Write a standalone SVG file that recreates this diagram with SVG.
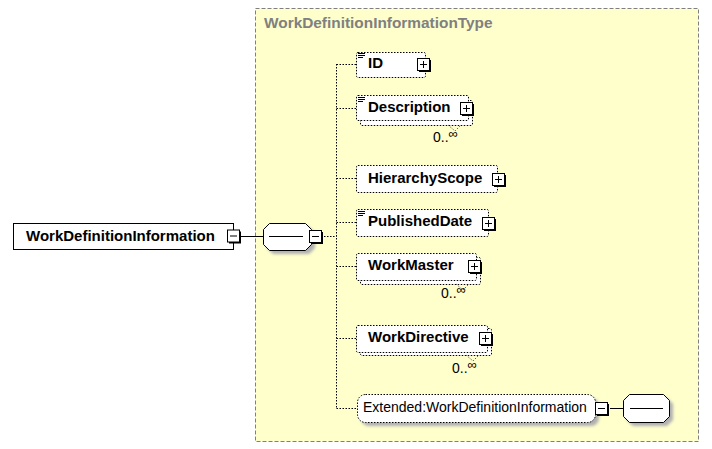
<svg xmlns="http://www.w3.org/2000/svg" width="712" height="449" viewBox="0 0 712 449">
<defs>
<style>
.bold{font-family:"Liberation Sans",Arial,sans-serif;font-weight:bold;font-size:15px;fill:#000}
.reg{font-family:"Liberation Sans",Arial,sans-serif;font-size:14px;fill:#000}
.title{font-family:"Liberation Sans",Arial,sans-serif;font-weight:bold;font-size:15.4px;fill:#808080}
.opt{fill:#fff;stroke:#000;stroke-width:1;stroke-dasharray:1.5,1.5}
.solid{fill:#fff;stroke:#000;stroke-width:1}
.conn{fill:none;stroke:#000;stroke-width:1;stroke-dasharray:1.5,1.5}
.line{fill:none;stroke:#000;stroke-width:1}
.shadow{fill:#b0b0b0;filter:url(#blur)}
.card{fill:none;stroke:#666;stroke-width:1;stroke-dasharray:1.5,1.5}
</style>
<filter id="blur" x="-20%" y="-20%" width="140%" height="140%"><feGaussianBlur stdDeviation="1.5"/></filter>
<g id="plus">
<rect x="2" y="2" width="12" height="12" fill="#000"/>
<rect x="0.5" y="0.5" width="12" height="12" fill="#fff" stroke="#000"/>
<path d="M3 6.5H10M6.5 3V10" stroke="#000" stroke-width="1"/>
</g>
<g id="minus">
<rect x="2" y="2" width="12" height="12" fill="#000"/>
<rect x="0.5" y="0.5" width="12" height="12" fill="#fff" stroke="#000"/>
<path d="M3 6.5H10" stroke="#000" stroke-width="1"/>
</g>
<g id="doc">
<path d="M0 0.5H7M0 2.5H7M0 4.5H5" stroke="#000" stroke-width="1"/>
</g>
</defs>

<g id="type-box">
<rect x="255.5" y="8.5" width="443" height="433" fill="#FFFFCC" stroke="#808080" stroke-dasharray="4,2"/>
<text class="title" x="264" y="28">WorkDefinitionInformationType</text>
</g>

<g id="connectors">
<path class="line" d="M241 236.5H263"/>
<path class="conn" d="M324 236.5H336.5"/>
<path class="conn" d="M336.5 64V408"/>
<path class="conn" d="M336.5 64.5H356"/>
<path class="conn" d="M336.5 108.5H356"/>
<path class="conn" d="M336.5 178.5H356"/>
<path class="conn" d="M336.5 222.5H356"/>
<path class="conn" d="M336.5 266.5H356"/>
<path class="conn" d="M336.5 338.5H356"/>
<path class="conn" d="M336.5 408.5H357"/>
<path class="line" d="M610 408.5H623"/>
</g>

<g id="WorkDefinitionInformation">
<rect class="solid" x="13.5" y="223.5" width="220" height="26"/>
<text class="bold" x="26" y="241">WorkDefinitionInformation</text>
<use href="#minus" x="227" y="229.5"/>
</g>

<g id="sequence">
<polygon class="shadow" points="273,227 309,227 315,233 315,248 309,254 273,254 267,248 267,233"/>
<polygon class="solid" points="269.5,223.5 305.5,223.5 311.5,229.5 311.5,244.5 305.5,250.5 269.5,250.5 263.5,244.5 263.5,229.5"/>
<path class="line" d="M269 236.5H303"/>
<use href="#minus" x="309" y="230"/>
</g>

<g id="ID">
<rect class="opt" x="356.5" y="52.5" width="69" height="25" rx="1.5"/>
<use href="#doc" x="358" y="53"/>
<text class="bold" x="368" y="68">ID</text>
<use href="#plus" x="417" y="58"/>
</g>

<g id="Description">
<rect class="opt" x="360.5" y="100.5" width="112" height="25" rx="1.5"/>
<rect class="opt" x="356.5" y="95.5" width="112" height="25" rx="1.5"/>
<use href="#doc" x="358" y="97"/>
<text class="bold" x="368" y="112">Description</text>
<use href="#plus" x="460" y="102"/>
<path class="card" d="M448 125L455 131L461 125"/>
<text class="reg" x="433" y="142">0..<tspan font-size="13" dy="-4">∞</tspan></text>
</g>

<g id="HierarchyScope">
<rect class="opt" x="356.5" y="165.5" width="141" height="27" rx="1.5"/>
<text class="bold" x="368" y="182.5">HierarchyScope</text>
<use href="#plus" x="492" y="173"/>
</g>

<g id="PublishedDate">
<rect class="opt" x="356.5" y="209.5" width="132" height="27" rx="1.5"/>
<use href="#doc" x="358" y="211"/>
<text class="bold" x="368" y="226">PublishedDate</text>
<use href="#plus" x="482" y="217"/>
</g>

<g id="WorkMaster">
<rect class="opt" x="360.5" y="257.5" width="120" height="27" rx="1.5"/>
<rect class="opt" x="356.5" y="253.5" width="120" height="27" rx="1.5"/>
<text class="bold" x="368" y="270">WorkMaster</text>
<use href="#plus" x="468" y="260"/>
<path class="card" d="M456 284L463 290L469 284"/>
<text class="reg" x="441" y="298">0..<tspan font-size="13" dy="-4">∞</tspan></text>
</g>

<g id="WorkDirective">
<rect class="opt" x="360.5" y="328.5" width="131" height="27" rx="1.5"/>
<rect class="opt" x="356.5" y="325.5" width="131" height="27" rx="1.5"/>
<text class="bold" x="368" y="341.5">WorkDirective</text>
<use href="#plus" x="479" y="332"/>
<path class="card" d="M466 355L473 361L479 355"/>
<text class="reg" x="452" y="373">0..<tspan font-size="13" dy="-4">∞</tspan></text>
</g>

<g id="Extended">
<rect class="shadow" x="361" y="398" width="238" height="28" rx="8"/>
<rect class="opt" x="357.5" y="394.5" width="238" height="28" rx="8"/>
<text class="reg" x="363" y="412">Extended:WorkDefinitionInformation</text>
<use href="#minus" x="595" y="402"/>
</g>

<g id="extended-sequence">
<polygon class="shadow" points="633,398 667,398 673,404 673,420 667,426 633,426 627,420 627,404"/>
<polygon class="solid" points="629.5,394.5 663.5,394.5 669.5,400.5 669.5,416.5 663.5,422.5 629.5,422.5 623.5,416.5 623.5,400.5"/>
<path class="line" d="M630 408.5H663"/>
</g>
</svg>
